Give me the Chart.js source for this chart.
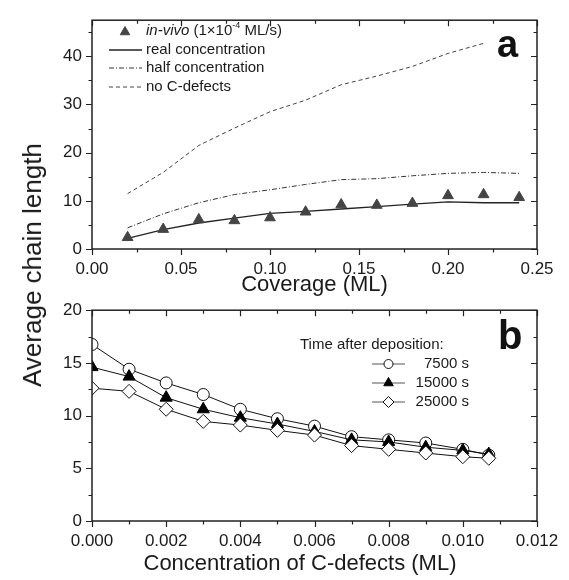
<!DOCTYPE html>
<html>
<head>
<meta charset="utf-8">
<script src="https://cdn.jsdelivr.net/npm/chart.js@4.4.0/dist/chart.umd.min.js"></script>
<style>
  html, body { margin: 0; padding: 0; background: #fff; }
  #wrap { position: relative; width: 569px; height: 580px; overflow: hidden; }
  #chartA { position: absolute; left: 0; top: 0; }
  #chartB { position: absolute; left: 0; top: 290px; }
  #ylab {
    position: absolute; left: 32px; top: 265px;
    transform: translate(-50%, -50%) rotate(-90deg);
    font: 26px "Liberation Sans", Arial, sans-serif; line-height: 1;
    white-space: nowrap; color: #1a1a1a;
  }
</style>
</head>
<body>
<div id="wrap">
  <canvas id="chartA" width="569" height="300" style="width:569px;height:300px"></canvas>
  <canvas id="chartB" width="569" height="290" style="width:569px;height:290px"></canvas>
  <div id="ylab">Average chain length</div>
</div>
<script>
var FONT = '"Liberation Sans", Arial, sans-serif';
var INK = '#1a1a1a';

// panel a: chain length vs coverage
var coverage = [0.02, 0.04, 0.06, 0.08, 0.10, 0.12, 0.14, 0.16, 0.18, 0.20, 0.22, 0.24];
var inVivo = [2.4, 4.1, 6.1, 5.9, 6.5, 7.7, 9.2, 9.1, 9.5, 11.1, 11.3, 10.7];
var realConc = [2.2, 4.0, 5.4, 6.4, 7.4, 7.8, 8.3, 8.8, 9.3, 9.8, 9.6, 9.6];
var halfConc = [4.4, 7.3, 9.6, 11.3, 12.3, 13.4, 14.4, 14.6, 15.2, 15.7, 15.9, 15.7];
var noDefects = [11.5, 15.9, 21.5, 25.1, 28.5, 30.9, 34.1, 35.9, 37.9, 40.6, 42.7];

// panel b: chain length vs C-defect concentration
var defectConc = [0, 0.001, 0.002, 0.003, 0.004, 0.005, 0.006, 0.007, 0.008, 0.009, 0.010, 0.0107];
var t7500 = [16.75, 14.4, 13.1, 12.0, 10.6, 9.7, 9.0, 8.0, 7.7, 7.4, 6.8, 6.25];
var t15000 = [14.6, 13.7, 11.7, 10.6, 9.8, 9.2, 8.5, 7.7, 7.5, 7.0, 6.7, 6.35];
var t25000 = [12.6, 12.3, 10.6, 9.45, 9.1, 8.6, 8.15, 7.15, 6.8, 6.45, 6.1, 5.95];
var timeLabels = ['7500 s', '15000 s', '25000 s'];

function pts(xs, ys) {
  return ys.map(function (y, i) { return { x: xs[i], y: y }; });
}

// box around the plot with minor/major ticks on all sides, plus panel letter
var framePlugin = {
  id: 'frame',
  afterDraw: function (chart, args, o) {
    var ctx = chart.ctx, a = chart.chartArea;
    var xs = chart.scales.x, ys = chart.scales.y;
    var i, v, p, len;
    ctx.save();
    ctx.strokeStyle = '#222';
    ctx.lineWidth = 1.5;
    ctx.strokeRect(a.left, a.top, a.right - a.left, a.bottom - a.top);
    ctx.lineWidth = 1.2;
    ctx.beginPath();
    for (i = 0; ; i++) {
      v = xs.min + i * o.xMinor;
      if (v > xs.max + 1e-9) break;
      p = Math.round(xs.getPixelForValue(v)) + 0.5;
      len = i % 2 === 0 ? 6 : 3.5;
      ctx.moveTo(p, a.bottom); ctx.lineTo(p, a.bottom + len);
      ctx.moveTo(p, a.top); ctx.lineTo(p, a.top + len);
    }
    for (i = 0; ; i++) {
      v = ys.min + i * o.yMinor;
      if (v > ys.max + 1e-9) break;
      p = Math.round(ys.getPixelForValue(v)) + 0.5;
      len = i % 2 === 0 ? 6 : 3.5;
      ctx.moveTo(a.left, p); ctx.lineTo(a.left - len, p);
      ctx.moveTo(a.right, p); ctx.lineTo(a.right - len, p);
    }
    ctx.stroke();
    ctx.fillStyle = '#111';
    ctx.font = 'bold ' + o.letterSize + 'px ' + FONT;
    ctx.textBaseline = 'alphabetic';
    ctx.textAlign = 'left';
    ctx.fillText(o.letter, a.left + o.letterX, a.top + o.letterY);
    if (o.xTitle) {
      ctx.fillStyle = INK;
      ctx.font = '22px ' + FONT;
      ctx.textAlign = 'center';
      ctx.fillText(o.xTitle, o.xTitleX, o.xTitleY);
    }
    ctx.restore();
  }
};

function legendLine(ctx, ds, x0, x1, y) {
  ctx.save();
  ctx.strokeStyle = ds.borderColor;
  ctx.lineWidth = ds.borderWidth || 1;
  ctx.setLineDash(ds.borderDash || []);
  ctx.beginPath();
  ctx.moveTo(x0, y); ctx.lineTo(x1, y);
  ctx.stroke();
  ctx.restore();
}

function legendMarker(ctx, ds, x, y, r) {
  ctx.save();
  ctx.fillStyle = ds.pointBackgroundColor;
  ctx.strokeStyle = ds.pointBorderColor;
  ctx.lineWidth = ds.pointBorderWidth;
  Chart.helpers.drawPoint(ctx, { pointStyle: ds.pointStyle, radius: r, borderWidth: ds.pointBorderWidth, rotation: 0 }, x, y);
  ctx.restore();
}

// legend of panel a
var legendA = {
  id: 'legendA',
  afterDraw: function (chart) {
    var ctx = chart.ctx, ds = chart.data.datasets;
    var rows = [31, 50, 68, 87];
    ctx.save();
    ctx.textBaseline = 'middle';
    ctx.textAlign = 'left';
    ctx.fillStyle = INK;
    legendMarker(ctx, ds[0], 125, rows[0] + 1, 5.5);
    var parts = [
      { t: 'in-vivo', f: 'italic 15px ' + FONT, dy: 0 },
      { t: ' (1\u00d710', f: '15px ' + FONT, dy: 0 },
      { t: '-4', f: '9px ' + FONT, dy: -5 },
      { t: ' ML/s)', f: '15px ' + FONT, dy: 0 }
    ];
    var x = 146;
    parts.forEach(function (pt) {
      ctx.font = pt.f;
      ctx.fillText(pt.t, x, rows[0] + pt.dy);
      x += ctx.measureText(pt.t).width;
    });
    ctx.font = '15px ' + FONT;
    for (var i = 1; i < 4; i++) {
      legendLine(ctx, ds[i], 109, 142, rows[i]);
      ctx.fillText(ds[i].label, 146, rows[i]);
    }
    ctx.restore();
  }
};

// legend of panel b
var legendB = {
  id: 'legendB',
  afterDraw: function (chart) {
    var ctx = chart.ctx, ds = chart.data.datasets;
    var rows = [364, 383, 402];
    var radii = [4.5, 5.5, 5.5];
    ctx.save();
    ctx.fillStyle = INK;
    ctx.font = '15px ' + FONT;
    ctx.textBaseline = 'middle';
    ctx.textAlign = 'left';
    ctx.fillText('Time after deposition:', 300, 345 - 290);
    for (var i = 0; i < ds.length; i++) {
      var y = rows[i] - 290;
      legendLine(ctx, { borderColor: '#555', borderWidth: 1 }, 372, 405, y);
      legendMarker(ctx, ds[i], 388.5, y, radii[i]);
      ctx.fillStyle = INK;
      ctx.textAlign = 'right';
      ctx.fillText(ds[i].label, 469, y);
    }
    ctx.restore();
  }
};

function axisTicks(step, digits, extra) {
  var t = {
    stepSize: step, padding: 10, color: INK, maxRotation: 0, autoSkip: false,
    font: { family: FONT, size: 17 },
    callback: function (v) { return digits === 0 ? String(Math.round(v)) : v.toFixed(digits); }
  };
  return Object.assign(t, extra || {});
}

new Chart(document.getElementById('chartA'), {
  type: 'line',
  data: {
    datasets: [
      { label: 'in-vivo (1\u00d710\u207b\u2074 ML/s)', data: pts(coverage, inVivo), showLine: false,
        pointStyle: 'triangle', pointRadius: 6.2, pointBackgroundColor: '#444', pointBorderColor: '#444', pointBorderWidth: 1 },
      { label: 'real concentration', data: pts(coverage, realConc), borderColor: '#222', borderWidth: 1.3, pointRadius: 0 },
      { label: 'half concentration', data: pts(coverage, halfConc), borderColor: '#333', borderWidth: 1, borderDash: [5, 2, 1, 2], pointRadius: 0 },
      { label: 'no C-defects', data: pts(coverage, noDefects), borderColor: '#444', borderWidth: 1, borderDash: [4, 3], pointRadius: 0 }
    ]
  },
  options: {
    responsive: false,
    animation: false,
    layout: { padding: { left: 0, top: 7, right: 32, bottom: 0 } },
    plugins: {
      legend: { display: false },
      tooltip: { enabled: false },
      frame: { xMinor: 0.025, yMinor: 5, letter: 'a', letterSize: 38, letterX: 405, letterY: 37 }
    },
    scales: {
      x: {
        type: 'linear', min: 0, max: 0.25,
        grid: { display: false, drawTicks: false }, border: { display: false },
        ticks: axisTicks(0.05, 2),
        title: { display: true, text: 'Coverage (ML)', color: INK, font: { family: FONT, size: 22 }, padding: { top: 0, bottom: 1.5 } },
        afterFit: function (s) { s.height = 51; }
      },
      y: {
        min: 0, max: 47.5,
        grid: { display: false, drawTicks: false }, border: { display: false },
        ticks: axisTicks(10, 0, { includeBounds: false }),
        afterFit: function (s) { s.width = 92; }
      }
    }
  },
  plugins: [framePlugin, legendA]
});

new Chart(document.getElementById('chartB'), {
  type: 'line',
  data: {
    datasets: [
      { label: timeLabels[0], data: pts(defectConc, t7500), order: 3, borderColor: '#111', borderWidth: 1,
        pointStyle: 'circle', pointRadius: 6, pointBackgroundColor: '#fff', pointBorderColor: '#111', pointBorderWidth: 1,
        clip: { left: 0, top: false, right: false, bottom: false } },
      { label: timeLabels[1], data: pts(defectConc, t15000), order: 2, borderColor: '#111', borderWidth: 1,
        pointStyle: 'triangle', pointRadius: 7, pointBackgroundColor: '#000', pointBorderColor: '#000', pointBorderWidth: 1,
        clip: { left: 0, top: false, right: false, bottom: false } },
      { label: timeLabels[2], data: pts(defectConc, t25000), order: 1, borderColor: '#111', borderWidth: 1,
        pointStyle: 'rectRot', pointRadius: 7, pointBackgroundColor: '#fff', pointBorderColor: '#111', pointBorderWidth: 1,
        clip: { left: 0, top: false, right: false, bottom: false } }
    ]
  },
  options: {
    responsive: false,
    animation: false,
    layout: { padding: { left: 0, top: 19, right: 32, bottom: 0 } },
    plugins: {
      legend: { display: false },
      tooltip: { enabled: false },
      frame: { xMinor: 0.001, yMinor: 2.5, letter: 'b', letterSize: 40, letterX: 406, letterY: 39,
               xTitle: 'Concentration of C-defects (ML)', xTitleX: 300, xTitleY: 280 }
    },
    scales: {
      x: {
        type: 'linear', min: 0, max: 0.012,
        grid: { display: false, drawTicks: false }, border: { display: false },
        ticks: axisTicks(0.002, 3),
        afterFit: function (s) { s.height = 59; }
      },
      y: {
        min: 0, max: 20,
        grid: { display: false, drawTicks: false }, border: { display: false },
        ticks: axisTicks(5, 0),
        afterFit: function (s) { s.width = 92; }
      }
    }
  },
  plugins: [framePlugin, legendB]
});
</script>
</body>
</html>
